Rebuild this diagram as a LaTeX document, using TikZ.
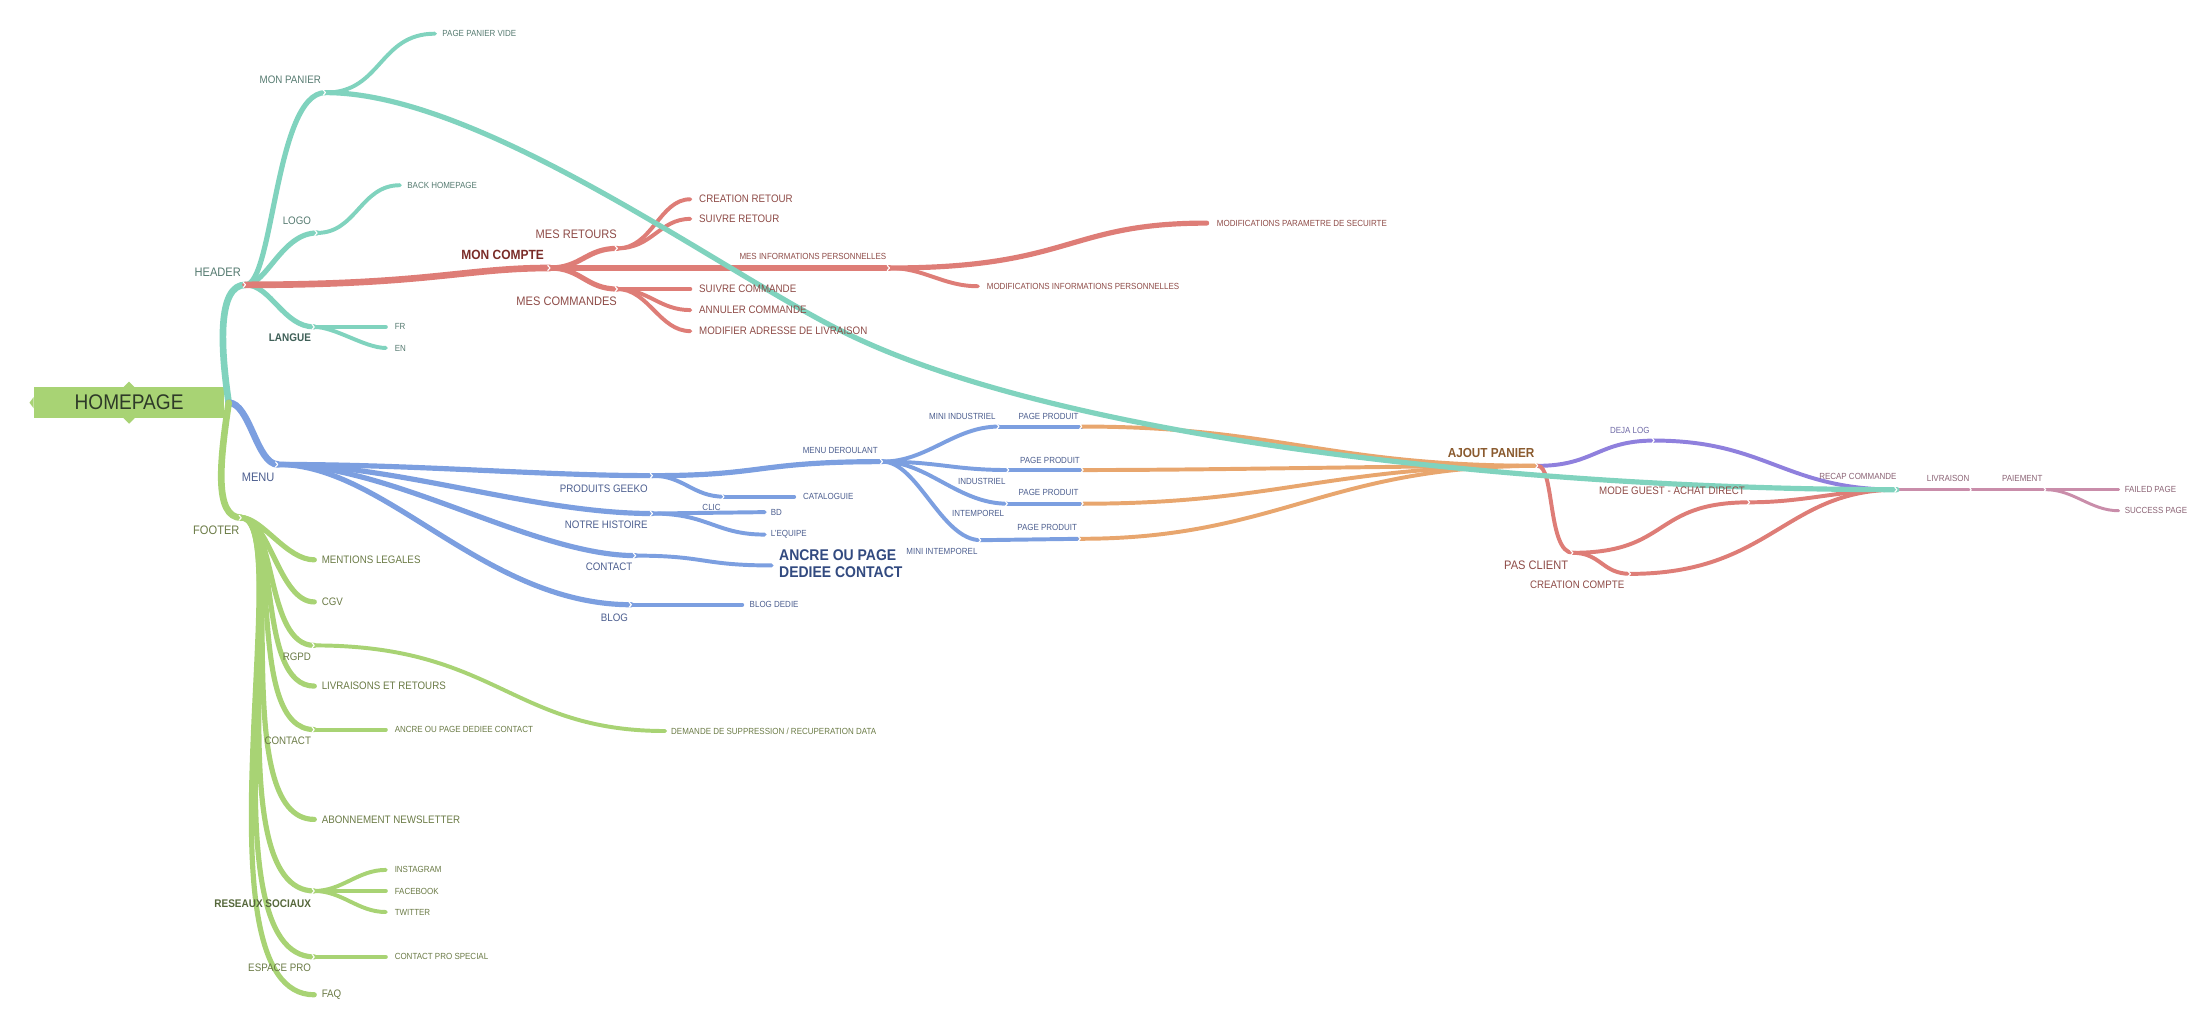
\documentclass[tikz,border=0pt]{standalone}
\usepackage{fontspec}
\setmainfont{Liberation Sans}[FakeStretch=0.9]
\definecolor{tealL}{HTML}{80D3BE}
\definecolor{tealT}{HTML}{557A70}
\definecolor{tealD}{HTML}{3E5F57}
\definecolor{redL}{HTML}{DE7D77}
\definecolor{redT}{HTML}{8E4B47}
\definecolor{redD}{HTML}{7A2C28}
\definecolor{bluL}{HTML}{7C9FE0}
\definecolor{bluT}{HTML}{4C5E8F}
\definecolor{bluD}{HTML}{324A80}
\definecolor{grnL}{HTML}{A8D374}
\definecolor{grnT}{HTML}{6A7A45}
\definecolor{grnD}{HTML}{55673A}
\definecolor{orgL}{HTML}{E8A66E}
\definecolor{orgT}{HTML}{8A5A2E}
\definecolor{purL}{HTML}{8F80DD}
\definecolor{purT}{HTML}{6E69A6}
\definecolor{mauL}{HTML}{C98DAA}
\definecolor{mauT}{HTML}{8A6274}
\definecolor{homeT}{HTML}{2E3A28}
\begin{document}
\begin{tikzpicture}[x=0.02cm, y=-0.02cm, line cap=round, line join=round,
		lab/.style={inner sep=0pt},
		ta/.style={lab, font=\fontsize{5}{6}\selectfont},
		tb/.style={lab, font=\fontsize{4.4}{5.3}\selectfont},
		tbb/.style={lab, font=\fontsize{4.5}{5.4}\selectfont\bfseries},
		tc/.style={lab, font=\fontsize{3.6}{4.3}\selectfont},
		w1/.style={line width=2.7pt}, w2/.style={line width=2.1pt},
		w3/.style={line width=1.6pt}, w4/.style={line width=1.2pt},
		chev/.style={white, line width=0.45pt}]
	\useasboundingbox (0,0) rectangle (1568,728);
	% root
	\node[fill=grnL, minimum width=2.72cm, minimum height=0.44cm, inner sep=0pt,
		text=homeT, font=\fontsize{8.6}{10}\selectfont] (home) at (92,287) {HOMEPAGE};
	\fill[grnL] (88,276) -- (92,272) -- (96,276) (88,298) -- (92,302) -- (96,298)
		(24,283) -- (21,287) -- (24,291);
	\coordinate (root) at (163,287);
	% header
	\coordinate (hdr) at (175,203);
	\coordinate (mp) at (232,66);
	\coordinate (ppv) at (310,24);
	\coordinate (logo) at (226,166);
	\coordinate (bh) at (285,132);
	\coordinate (lang) at (224,233);
	\coordinate (fr) at (275,233);
	\coordinate (en) at (275,248);
	% mon compte
	\coordinate (mc) at (392,191);
	\coordinate (mr) at (440,177);
	\coordinate (cr) at (492,142);
	\coordinate (sr) at (492,156);
	\coordinate (mip) at (634,191);
	\coordinate (mps) at (860,159);
	\coordinate (mip2) at (697,204);
	\coordinate (mcm) at (440,206);
	\coordinate (sc) at (492,206);
	\coordinate (ac) at (492,221);
	\coordinate (ma) at (492,236);
	% menu
	\coordinate (menu) at (198,331);
	\coordinate (pg) at (465,339);
	\coordinate (nh) at (465,366);
	\coordinate (ct) at (453,396);
	\coordinate (bl) at (450,431);
	\coordinate (md) at (629,329);
	\coordinate (clic) at (516,354);
	\coordinate (cat) at (566,354);
	\coordinate (bd) at (545,365);
	\coordinate (eq) at (545,381);
	\coordinate (anc) at (550,403);
	\coordinate (bld) at (529,431);
	\coordinate (mi) at (712,304);
	\coordinate (ind) at (719,335);
	\coordinate (int) at (718,359);
	\coordinate (mint) at (699,385);
	\coordinate (pp1) at (771,304);
	\coordinate (pp2) at (772,335);
	\coordinate (pp3) at (772,359);
	\coordinate (pp4) at (770,384);
	% panier / commande
	\coordinate (ajout) at (1096,332);
	\coordinate (deja) at (1179,314);
	\coordinate (pas) at (1121,394);
	\coordinate (guest) at (1247,358);
	\coordinate (crea) at (1162,409);
	\coordinate (recap) at (1352,349);
	\coordinate (livr) at (1405,349);
	\coordinate (paie) at (1458,349);
	\coordinate (failed) at (1510,349);
	\coordinate (success) at (1510,364);
	% footer
	\coordinate (footer) at (172,369);
	\coordinate (ml) at (224,399);
	\coordinate (cgv) at (224,429);
	\coordinate (rgpd) at (224,460);
	\coordinate (dem) at (474,521);
	\coordinate (lr) at (224,489);
	\coordinate (fct) at (224,520);
	\coordinate (fanc) at (275,520);
	\coordinate (news) at (224,584);
	\coordinate (rs) at (224,635);
	\coordinate (insta) at (275,620);
	\coordinate (fb) at (275,635);
	\coordinate (tw) at (275,650);
	\coordinate (ep) at (224,682);
	\coordinate (cps) at (275,682);
	\coordinate (faq) at (224,709);

	% teal branches
	\draw[tealL, w1] (root) .. controls +(-6,-40) and +(-20,0) .. (hdr);
	\draw[tealL, w2] (hdr) .. controls +(20,0) and +(-36,0) .. (mp);
	\draw[tealL, w3] (mp) .. controls +(40,0) and +(-40,0) .. (ppv);
	\draw[tealL, w2] (hdr) .. controls +(15,0) and +(-25,0) .. (logo);
	\draw[tealL, w3] (logo) .. controls +(28,0) and +(-28,0) .. (bh);
	\draw[tealL, w2] (hdr) .. controls +(18,0) and +(-22,0) .. (lang);
	\draw[tealL, w3] (lang) -- (fr);
	\draw[tealL, w3] (lang) .. controls +(15,0) and +(-15,0) .. (en);
	% red branches
	\draw[redL, w1] (hdr) .. controls +(130,0) and +(-60,0) .. (mc);
	\draw[redL, w2] (mc) .. controls +(22,0) and +(-22,0) .. (mr);
	\draw[redL, w3] (mr) .. controls +(25,0) and +(-22,0) .. (cr);
	\draw[redL, w3] (mr) .. controls +(25,0) and +(-22,0) .. (sr);
	\draw[redL, w2] (mc) -- (mip);
	\draw[redL, w2] (mip) .. controls +(130,0) and +(-100,0) .. (mps);
	\draw[redL, w3] (mip) .. controls +(25,0) and +(-25,0) .. (mip2);
	\draw[redL, w2] (mc) .. controls +(22,0) and +(-22,0) .. (mcm);
	\draw[redL, w3] (mcm) -- (sc);
	\draw[redL, w3] (mcm) .. controls +(22,0) and +(-22,0) .. (ac);
	\draw[redL, w3] (mcm) .. controls +(22,0) and +(-22,0) .. (ma);
	% blue branches
	\draw[bluL, w1] (root) .. controls +(15,0) and +(-15,0) .. (menu);
	\draw[bluL, w2] (menu) .. controls +(100,0) and +(-80,0) .. (pg);
	\draw[bluL, w2] (menu) .. controls +(85,0) and +(-85,0) .. (nh);
	\draw[bluL, w2] (menu) .. controls +(82,0) and +(-73,0) .. (ct);
	\draw[bluL, w2] (menu) .. controls +(77,0) and +(-105,0) .. (bl);
	\draw[bluL, w2] (pg) .. controls +(80,0) and +(-90,0) .. (md);
	\draw[bluL, w3] (pg) .. controls +(22,0) and +(-22,0) .. (clic);
	\draw[bluL, w3] (clic) -- (cat);
	\draw[bluL, w3] (nh) -- (bd);
	\draw[bluL, w3] (nh) .. controls +(40,0) and +(-35,0) .. (eq);
	\draw[bluL, w3] (ct) .. controls +(50,0) and +(-50,0) .. (anc);
	\draw[bluL, w3] (bl) -- (bld);
	\draw[bluL, w3] (md) .. controls +(32,0) and +(-32,0) .. (mi);
	\draw[bluL, w3] (md) .. controls +(40,0) and +(-40,0) .. (ind);
	\draw[bluL, w3] (md) .. controls +(32,0) and +(-35,0) .. (int);
	\draw[bluL, w3] (md) .. controls +(25,0) and +(-28,0) .. (mint);
	\draw[bluL, w3] (mi) -- (pp1);
	\draw[bluL, w3] (ind) -- (pp2);
	\draw[bluL, w3] (int) -- (pp3);
	\draw[bluL, w3] (mint) -- (pp4);
	% orange to ajout panier
	\draw[orgL, w3] (pp1) .. controls +(140,0) and +(-150,0) .. (ajout);
	\draw[orgL, w3] (pp2) .. controls +(100,0) and +(-100,0) .. (ajout);
	\draw[orgL, w3] (pp3) .. controls +(140,0) and +(-150,0) .. (ajout);
	\draw[orgL, w3] (pp4) .. controls +(140,0) and +(-150,0) .. (ajout);
	% ajout panier to recap
	\draw[purL, w3] (ajout) .. controls +(40,0) and +(-40,0) .. (deja);
	\draw[purL, w3] (deja) .. controls +(80,0) and +(-80,0) .. (recap);
	\draw[redL, w3] (ajout) .. controls +(12,0) and +(-18,0) .. (pas);
	\draw[redL, w3] (pas) .. controls +(70,0) and +(-70,0) .. (guest);
	\draw[redL, w3] (guest) .. controls +(40,0) and +(-40,0) .. (recap);
	\draw[redL, w3] (pas) .. controls +(20,0) and +(-20,0) .. (crea);
	\draw[redL, w3] (crea) .. controls +(100,0) and +(-80,0) .. (recap);
	\draw[mauL, w4] (recap) -- (livr) -- (paie) -- (failed);
	\draw[mauL, w4] (paie) .. controls +(20,0) and +(-20,0) .. (success);
	% green branches
	\draw[grnL, w1] (root) .. controls +(-6,40) and +(-20,0) .. (footer);
	\draw[grnL, w2] (footer) .. controls +(15,0) and +(-20,0) .. (ml);
	\draw[grnL, w2] (footer) .. controls +(20,0) and +(-25,0) .. (cgv);
	\draw[grnL, w2] (footer) .. controls +(25,0) and +(-35,0) .. (rgpd);
	\draw[grnL, w2] (footer) .. controls +(28,0) and +(-42,0) .. (lr);
	\draw[grnL, w2] (footer) .. controls +(30,0) and +(-50,0) .. (fct);
	\draw[grnL, w2] (footer) .. controls +(33,0) and +(-62,0) .. (news);
	\draw[grnL, w2] (footer) .. controls +(36,0) and +(-72,0) .. (rs);
	\draw[grnL, w2] (footer) .. controls +(38,0) and +(-80,0) .. (ep);
	\draw[grnL, w2] (footer) .. controls +(40,0) and +(-88,0) .. (faq);
	\draw[grnL, w3] (rgpd) .. controls +(130,0) and +(-110,0) .. (dem);
	\draw[grnL, w3] (fct) -- (fanc);
	\draw[grnL, w3] (rs) .. controls +(20,0) and +(-20,0) .. (insta);
	\draw[grnL, w3] (rs) -- (fb);
	\draw[grnL, w3] (rs) .. controls +(20,0) and +(-20,0) .. (tw);
	\draw[grnL, w3] (ep) -- (cps);
	% mon panier straight to recap
	\draw[tealL, w2] (mp) .. controls +(110,0) and +(-90,-45) .. (600,236)
		.. controls +(160,80) and +(-250,0) .. (recap);
	% junction marks
	\foreach \j in {hdr,mp,logo,lang,mc,mr,mip,mcm,menu,pg,nh,ct,bl,md,clic,mi,ind,int,mint,
		pp1,pp2,pp3,pp4,ajout,deja,pas,guest,crea,recap,livr,paie,footer,rgpd,fct,rs,ep}
		\draw[chev] (\j) ++(-1.6,-1.8) -- ++(1.6,1.8) -- ++(-1.6,1.8);

	% labels header
	\node[ta, text=tealT, anchor=east] (tHdr) at (172,194) {HEADER};
	\node[tb, text=tealT, anchor=east] (tMp) at (229,57) {MON PANIER};
	\node[tc, text=tealT, anchor=west] (tPpv) at (315,24) {PAGE PANIER VIDE};
	\node[tb, text=tealT, anchor=east] (tLogo) at (222,157) {LOGO};
	\node[tc, text=tealT, anchor=west] (tBh) at (290,132) {BACK HOMEPAGE};
	\node[tbb, text=tealD, anchor=east] (tLang) at (222,241) {LANGUE};
	\node[tc, text=tealT, anchor=west] (tFr) at (281,233) {FR};
	\node[tc, text=tealT, anchor=west] (tEn) at (281,248) {EN};
	% labels mon compte
	\node[lab, font=\fontsize{5.4}{6.4}\selectfont\bfseries, text=redD, anchor=east] (tMc) at (388,182) {MON COMPTE};
	\node[ta, text=redT, anchor=east] (tMr) at (440,167) {MES RETOURS};
	\node[tb, text=redT, anchor=west] (tCr) at (498,142) {CREATION RETOUR};
	\node[tb, text=redT, anchor=west] (tSr) at (498,156) {SUIVRE RETOUR};
	\node[tc, text=redT, anchor=east] (tMip) at (632,183) {MES INFORMATIONS PERSONNELLES};
	\node[tc, text=redT, anchor=west] (tMps) at (867,159) {MODIFICATIONS PARAMETRE DE SECUIRTE};
	\node[tc, text=redT, anchor=west] (tMip2) at (703,204) {MODIFICATIONS INFORMATIONS PERSONNELLES};
	\node[ta, text=redT, anchor=east] (tMcm) at (440,215) {MES COMMANDES};
	\node[tb, text=redT, anchor=west] (tSc) at (498,206) {SUIVRE COMMANDE};
	\node[tb, text=redT, anchor=west] (tAc) at (498,221) {ANNULER COMMANDE};
	\node[tb, text=redT, anchor=west] (tMa) at (498,236) {MODIFIER ADRESSE DE LIVRAISON};
	% labels menu
	\node[ta, text=bluT, anchor=east] (tMenu) at (196,340) {MENU};
	\node[tb, text=bluT, anchor=east] (tPg) at (462,348) {PRODUITS GEEKO};
	\node[tb, text=bluT, anchor=east] (tNh) at (462,374) {NOTRE HISTOIRE};
	\node[tb, text=bluT, anchor=east] (tCt) at (451,404) {CONTACT};
	\node[tb, text=bluT, anchor=east] (tBl) at (448,440) {BLOG};
	\node[tc, text=bluT, anchor=east] (tMd) at (626,321) {MENU DEROULANT};
	\node[tc, text=bluT, anchor=east] (tClic) at (514,362) {CLIC};
	\node[tc, text=bluT, anchor=west] (tCat) at (572,354) {CATALOGUIE};
	\node[tc, text=bluT, anchor=west] (tBd) at (549,365) {BD};
	\node[tc, text=bluT, anchor=west] (tEq) at (549,381) {L'EQUIPE};
	\node[lab, font=\fontsize{6.3}{6.9}\selectfont\bfseries, text=bluD, anchor=west, align=left] (tAnc) at (555,402) {ANCRE OU PAGE\\DEDIEE CONTACT};
	\node[tc, text=bluT, anchor=west] (tBld) at (534,431) {BLOG DEDIE};
	\node[tc, text=bluT, anchor=east] (tMi) at (710,297) {MINI INDUSTRIEL};
	\node[tc, text=bluT, anchor=east] (tPp1) at (769,297) {PAGE PRODUIT};
	\node[tc, text=bluT, anchor=east] (tInd) at (717,343) {INDUSTRIEL};
	\node[tc, text=bluT, anchor=east] (tPp2) at (770,328) {PAGE PRODUIT};
	\node[tc, text=bluT, anchor=east] (tInt) at (716,366) {INTEMPOREL};
	\node[tc, text=bluT, anchor=east] (tPp3) at (769,351) {PAGE PRODUIT};
	\node[tc, text=bluT, anchor=east] (tMint) at (697,393) {MINI INTEMPOREL};
	\node[tc, text=bluT, anchor=east] (tPp4) at (768,376) {PAGE PRODUIT};
	% labels panier / commande
	\node[lab, font=\fontsize{5.3}{6.3}\selectfont\bfseries, text=orgT, anchor=east] (tAjout) at (1094,323) {AJOUT PANIER};
	\node[tc, text=purT, anchor=east] (tDeja) at (1176,307) {DEJA LOG};
	\node[ta, text=redT, anchor=east] (tPas) at (1118,403) {PAS CLIENT};
	\node[tb, text=redT, anchor=east] (tGuest) at (1244,350) {MODE GUEST - ACHAT DIRECT};
	\node[tb, text=redT, anchor=east] (tCrea) at (1158,417) {CREATION COMPTE};
	\node[tc, text=mauT, anchor=east] (tRecap) at (1352,339.5) {RECAP COMMANDE};
	\node[tc, text=mauT, anchor=east] (tLivr) at (1404,341) {LIVRAISON};
	\node[tc, text=mauT, anchor=east] (tPaie) at (1456,341) {PAIEMENT};
	\node[tc, text=mauT, anchor=west] (tFail) at (1514,349) {FAILED PAGE};
	\node[tc, text=mauT, anchor=west] (tSucc) at (1514,364) {SUCCESS PAGE};
	% labels footer
	\node[ta, text=grnT, anchor=east] (tFooter) at (171,378) {FOOTER};
	\node[tb, text=grnT, anchor=west] (tMl) at (229,399) {MENTIONS LEGALES};
	\node[tb, text=grnT, anchor=west] (tCgv) at (229,429) {CGV};
	\node[tb, text=grnT, anchor=east] (tRgpd) at (222,468) {RGPD};
	\node[tc, text=grnT, anchor=west] (tDem) at (478,521) {DEMANDE DE SUPPRESSION / RECUPERATION DATA};
	\node[tb, text=grnT, anchor=west] (tLr) at (229,489) {LIVRAISONS ET RETOURS};
	\node[tb, text=grnT, anchor=east] (tFct) at (222,528) {CONTACT};
	\node[tc, text=grnT, anchor=west] (tFanc) at (281,520) {ANCRE OU PAGE DEDIEE CONTACT};
	\node[tb, text=grnT, anchor=west] (tNews) at (229,584) {ABONNEMENT NEWSLETTER};
	\node[tbb, text=grnD, anchor=east] (tRs) at (222,644) {RESEAUX SOCIAUX};
	\node[tc, text=grnT, anchor=west] (tInsta) at (281,620) {INSTAGRAM};
	\node[tc, text=grnT, anchor=west] (tFb) at (281,635) {FACEBOOK};
	\node[tc, text=grnT, anchor=west] (tTw) at (281,650) {TWITTER};
	\node[tb, text=grnT, anchor=east] (tEp) at (222,690) {ESPACE PRO};
	\node[tc, text=grnT, anchor=west] (tCps) at (281,682) {CONTACT PRO SPECIAL};
	\node[tb, text=grnT, anchor=west] (tFaq) at (229,709) {FAQ};
\end{tikzpicture}
\end{document}
